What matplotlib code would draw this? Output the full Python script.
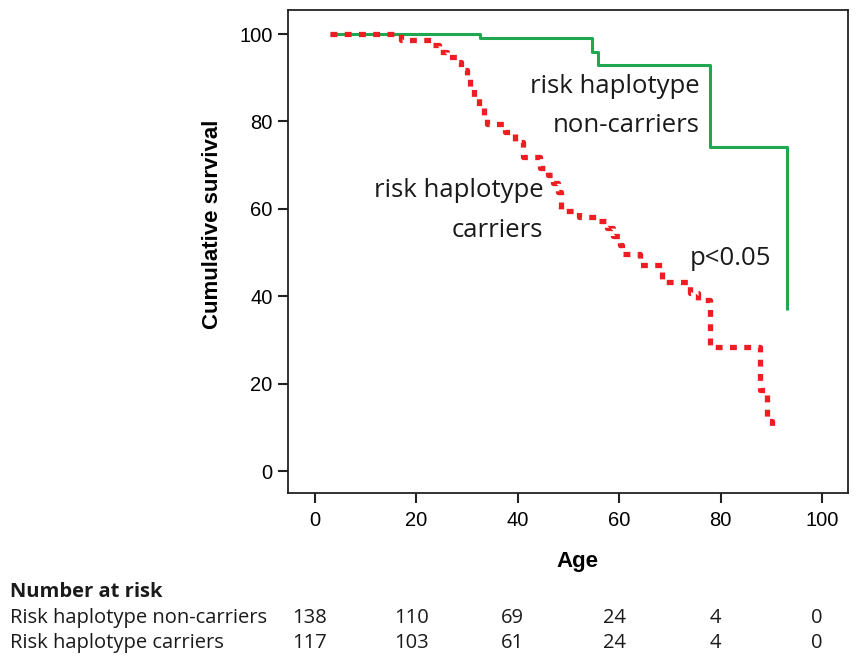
import matplotlib
matplotlib.use("Agg")
import matplotlib.pyplot as plt
import matplotlib.transforms as mtransforms

# ---- data (age, cumulative survival %) ----
noncarrier_age = [3, 32.5, 54.6, 55.8, 77.9, 93.1]
noncarrier_surv = [100, 99, 96, 92.9, 74.2, 36.8]

carrier_age = [3, 17, 23, 24.5, 26, 28.2, 28.8, 30, 30.6, 31.3, 32.3, 33.3, 34,
               37.5, 39.5, 41, 44.4, 46, 47, 48, 48.6, 52, 55.8, 57.6, 58.8,
               60.2, 60.6, 64, 68.4, 74, 75.5, 77.9, 87.8, 89.2, 90.1]
carrier_surv = [100, 98.6, 97.4, 95.9, 94.7, 93.5, 91.8, 90.2, 87.8, 85.6, 83.2,
                81.5, 79.5, 77.5, 75.4, 71.8, 69.3, 67.8, 66, 63.8, 59.5, 58.2,
                57.2, 55.6, 53.8, 51.8, 49.6, 47.2, 43.3, 40.7, 39.2, 28.4, 18.6,
                11.5, 9.2]

risk_ages = [0, 20, 40, 60, 80, 100]
risk_rows = ["Risk haplotype non-carriers", "Risk haplotype carriers"]
risk_noncarriers = [138, 110, 69, 24, 4, 0]
risk_carriers = [117, 103, 61, 24, 4, 0]

W, H = 857, 657
fig = plt.figure(figsize=(W / 100, H / 100), dpi=100)
ax = fig.add_axes([288 / W, 1 - 493 / H, (848 - 288) / W, (493 - 10) / H])

green = "#1fa84f"
red = "#ee1d23"
ax.plot(noncarrier_age, noncarrier_surv, drawstyle="steps-post", color=green,
        lw=2.2, solid_capstyle="butt")
ax.plot(carrier_age, carrier_surv, drawstyle="steps-post", color=red,
        lw=3.8, linestyle=(0, (1.3, 1.4)), dash_capstyle="butt")

ax.set_xlim(-5.3, 105.1)
ax.set_ylim(-5, 105.5)
ax.set_xticks(range(0, 101, 20))
ax.set_yticks(range(0, 101, 20))
for s in ax.spines.values():
    s.set_linewidth(1.3)
    s.set_color("#222222")
ax.tick_params(direction="out", length=7, width=1.5, color="#222222",
               labelsize=14.5, pad=4)
for lab in ax.get_xticklabels() + ax.get_yticklabels():
    lab.set_family("Liberation Sans")
ax.tick_params(axis="x", pad=6)

fig.text(577 / W, 1 - 562 / H, "Age", ha="center", va="center",
         fontsize=16, fontweight="bold", family="Liberation Sans")
fig.text(213 / W, 1 - 224 / H, "Cumulative survival", ha="center", va="center",
         rotation=90, fontsize=16, fontweight="bold", family="Liberation Sans")

# curve annotations
ann = dict(fontsize=18.5, family="Open Sans", color="#1a1a1a", va="center")
ax.text(75.9, 88.1, "risk haplotype", ha="right", **ann)
ax.text(75.9, 79.0, "non-carriers", ha="right", **ann)
ax.text(45.0, 64.3, "risk haplotype", ha="right", **ann)
ax.text(45.0, 55.1, "carriers", ha="right", **ann)
ax.text(74.0, 48.7, "p<0.05", ha="left", **ann)

# number at risk table
tab = dict(fontsize=14.5, family="Open Sans", color="#1a1a1a", va="center")
fig.text(10 / W, 1 - 592 / H, "Number at risk", ha="left", fontweight="bold", **tab)
trans = mtransforms.blended_transform_factory(ax.transData, fig.transFigure)
for row, vals, ypix in [(risk_rows[0], risk_noncarriers, 618),
                        (risk_rows[1], risk_carriers, 643)]:
    fig.text(10 / W, 1 - ypix / H, row, ha="left", **tab)
    for a, v in zip(risk_ages, vals):
        fig.text(a - 1, 1 - ypix / H, str(v), ha="center", transform=trans, **tab)

fig.savefig("out.png", dpi=100)
